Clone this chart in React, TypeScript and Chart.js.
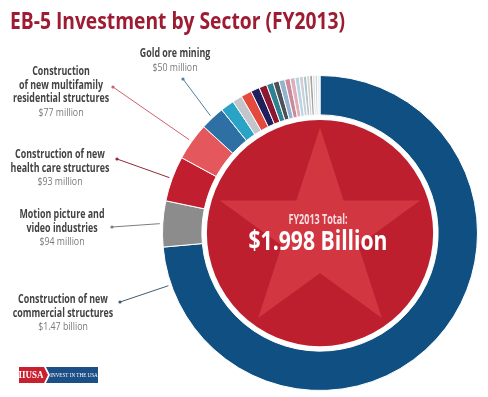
import React, { useEffect, useRef } from "react";
import { Chart, registerables } from "chart.js";

Chart.register(...registerables);

// ---------- DATA ----------
const categories = [
  "Construction of new commercial structures",
  "Motion picture and video industries",
  "Construction of new health care structures",
  "Construction of new multifamily residential structures",
  "Gold ore mining",
  "Other sector A",
  "Other sector B",
  "Other sector C",
  "Other sector D",
  "Other sector E",
  "Other sector F",
  "Other sector G",
  "Other sector H",
  "Other sector I",
  "Other sector J",
  "Other sector K",
  "Other sector L",
  "Other sector M",
  "Other sector N",
  "Other sector O",
  "Other sector P",
  "Other sector Q",
  "Other sector R",
];

// $ millions
const values = [1470, 94, 93, 77, 50, 28, 20, 22, 18, 16, 14, 12, 12, 11, 10, 9, 8, 7, 6, 6, 5, 5, 5];

const sliceColors = [
  "#104f82", "#8c8c8c", "#c11f30", "#e4585d", "#2f70a4",
  "#2aa4c6", "#c3c4cc", "#e4493d", "#201f5e", "#8c1730",
  "#2e8291", "#4c5157", "#93b3cf", "#c98b9c", "#e3adba",
  "#b5d6e6", "#cfcfd3", "#a9c7d7", "#d9d1c2", "#a2a2a6",
  "#dedede", "#c8d8e0", "#ececec",
];

const titleText = "EB-5 Investment by Sector (FY2013)";
const centerCaption = "FY2013 Total:";
const centerValue = "$1.998 Billion";

// labelled slices
const labelSlice = [4, 3, 2, 1, 0];
const labelTitles = [
  ["Gold ore mining"],
  ["Construction", "of new multifamily", "residential structures"],
  ["Construction of new", "health care structures"],
  ["Motion picture and", "video industries"],
  ["Construction of new", "commercial structures"],
];
const labelAmounts = ["$50 million", "$77 million", "$93 million", "$94 million", "$1.47 billion"];
const lineColors = ["#527f97", "#cf5f6c", "#8d2b39", "#7c7c7c", "#3e5b74"];
// where on the slice the leader line points (fraction of the slice's angle)
const lineFraction = [0.5, 0.5, 0.5, 0.5, 0.947];

// ---------- LAYOUT (positions only) ----------
const labelCenterX = [175, 61, 60, 62, 63];
const labelTopY = [54, 72, 155, 215, 300];
const dotPos = [
  [183, 79],
  [113, 87],
  [117, 159],
  [112, 227],
  [120, 302],
];

const FONT = "'Open Sans', 'DejaVu Sans', sans-serif";
const LABEL_SCALE = 0.74; // condensed look
const AMOUNT_SCALE = 0.8;

function scaledText(ctx: CanvasRenderingContext2D, text: string, x: number, y: number, sx: number) {
  ctx.save();
  ctx.translate(x, y);
  ctx.scale(sx, 1);
  ctx.fillText(text, 0, 0);
  ctx.restore();
}

function fitScale(ctx: CanvasRenderingContext2D, text: string, width: number) {
  const w = ctx.measureText(text).width;
  return w > 0 ? width / w : 1;
}

const overlayPlugin = {
  id: "overlay",
  afterDatasetsDraw(chart: any) {
    const ctx: CanvasRenderingContext2D = chart.ctx;
    const meta = chart.getDatasetMeta(0);
    const arc0 = meta.data[0].getProps(["x", "y", "innerRadius", "outerRadius"], true);
    const cx = arc0.x;
    const cy = arc0.y;
    const inner = arc0.innerRadius;
    const outer = arc0.outerRadius;

    ctx.save();
    // center red disc
    const discR = inner - 5;
    ctx.beginPath();
    ctx.arc(cx, cy, discR, 0, Math.PI * 2);
    ctx.fillStyle = "#be1f2e";
    ctx.fill();

    // star
    ctx.save();
    ctx.beginPath();
    ctx.arc(cx, cy, discR, 0, Math.PI * 2);
    ctx.clip();
    const R = discR * 0.93;
    const r = R * 0.382;
    ctx.beginPath();
    for (let k = 0; k < 10; k++) {
      const a = -Math.PI / 2 + (k * Math.PI) / 5;
      const rr = k % 2 === 0 ? R : r;
      const px = cx + rr * Math.cos(a);
      const py = cy + rr * Math.sin(a);
      if (k === 0) ctx.moveTo(px, py);
      else ctx.lineTo(px, py);
    }
    ctx.closePath();
    ctx.fillStyle = "#d23741";
    ctx.fill();
    ctx.restore();

    // center text
    ctx.textAlign = "center";
    ctx.textBaseline = "middle";
    ctx.fillStyle = "#f6dde0";
    ctx.font = `bold 14px ${FONT}`;
    scaledText(ctx, centerCaption, cx - 2, cy - 13, fitScale(ctx, centerCaption, 59));
    ctx.fillStyle = "#ffffff";
    ctx.font = `bold 26px ${FONT}`;
    scaledText(ctx, centerValue, cx - 2, cy + 10, fitScale(ctx, centerValue, 139));

    // title
    ctx.textAlign = "left";
    ctx.textBaseline = "alphabetic";
    ctx.fillStyle = "#9e1c33";
    ctx.font = `bold 24px ${FONT}`;
    scaledText(ctx, titleText, 10, 29, fitScale(ctx, titleText, 335));

    // labels & leader lines
    labelSlice.forEach((si, li) => {
      const a = meta.data[si].getProps(["startAngle", "endAngle"], true);
      const ang = a.startAngle + (a.endAngle - a.startAngle) * lineFraction[li];
      const ex = cx + (outer + 3) * Math.cos(ang);
      const ey = cy + (outer + 3) * Math.sin(ang);
      const [dx, dy] = dotPos[li];
      ctx.strokeStyle = lineColors[li];
      ctx.lineWidth = 1;
      ctx.beginPath();
      ctx.moveTo(dx, dy);
      ctx.lineTo(ex, ey);
      ctx.stroke();
      ctx.beginPath();
      ctx.arc(dx, dy, 1.6, 0, Math.PI * 2);
      ctx.fillStyle = lineColors[li];
      ctx.fill();

      ctx.textAlign = "center";
      ctx.textBaseline = "middle";
      let y = labelTopY[li];
      ctx.fillStyle = "#434343";
      ctx.font = `bold 12px ${FONT}`;
      labelTitles[li].forEach((t) => {
        scaledText(ctx, t, labelCenterX[li], y, LABEL_SCALE);
        y += 13.5;
      });
      ctx.fillStyle = "#7a7a7a";
      ctx.font = `11px ${FONT}`;
      scaledText(ctx, labelAmounts[li], labelCenterX[li], y, AMOUNT_SCALE);
    });

    // logo
    ctx.fillStyle = "#c9202f";
    ctx.beginPath();
    ctx.moveTo(19, 367);
    ctx.lineTo(44, 367);
    ctx.lineTo(48, 375);
    ctx.lineTo(44, 383);
    ctx.lineTo(19, 383);
    ctx.closePath();
    ctx.fill();
    ctx.fillStyle = "#1d4f87";
    ctx.beginPath();
    ctx.moveTo(46, 367);
    ctx.lineTo(98, 367);
    ctx.lineTo(98, 383);
    ctx.lineTo(46, 383);
    ctx.lineTo(50, 375);
    ctx.closePath();
    ctx.fill();
    ctx.fillStyle = "#ffffff";
    ctx.textAlign = "center";
    ctx.textBaseline = "middle";
    ctx.font = "bold 10px 'Liberation Serif', serif";
    scaledText(ctx, "IIUSA", 31, 375.5, 0.9);
    ctx.font = "6px 'Liberation Serif', serif";
    scaledText(ctx, "INVEST IN THE USA", 74, 375.5, 0.85);
    ctx.restore();
  },
};

export default function App() {
  const ref = useRef<HTMLCanvasElement | null>(null);
  useEffect(() => {
    if (!ref.current) return;
    const chart = new Chart(ref.current, {
      type: "doughnut",
      data: {
        labels: categories,
        datasets: [
          {
            data: values,
            backgroundColor: sliceColors,
            borderColor: "#ffffff",
            borderWidth: 1,
            hoverOffset: 0,
          },
        ],
      },
      options: {
        responsive: false,
        animation: false,
        cutout: "75%",
        layout: { padding: { left: 162, right: 10, top: 75, bottom: 6 } },
        plugins: {
          legend: { display: false },
          title: { display: false },
          tooltip: { enabled: false },
        },
      },
      plugins: [overlayPlugin],
    });
    return () => chart.destroy();
  }, []);
  return (
    <div style={{ position: "fixed", left: 0, top: 0, width: 488, height: 397, background: "#fff" }}>
      <canvas ref={ref} width={488} height={397} style={{ display: "block", width: 488, height: 397 }} />
    </div>
  );
}
